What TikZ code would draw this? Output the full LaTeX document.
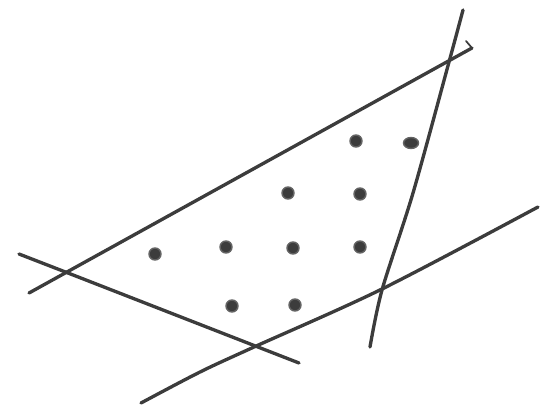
\documentclass[tikz,border=0pt]{standalone}
\usepackage{tikz}
\usetikzlibrary{calc}

\definecolor{pencil}{HTML}{3C3C3C}
\tikzset{
    pen/.style={draw=pencil, line width=1.9pt, line cap=round},
    dot/.style={fill=pencil, draw=pencil!80, line width=0.8pt}
}

\begin{document}
\begin{tikzpicture}[x=0.02cm, y=-0.02cm]
    \useasboundingbox (0,0) rectangle (543,408);
    % Upper line
    \draw[pen] (29,293) -- (472,48);
    \draw[pen, line width=1pt] (472,48) -- (466,41);
    % Steep line
    \draw[pen] plot[smooth] coordinates {(463,10) (449,62) (413,193) (382,290) (370,347)};
    % Lower left line
    \draw[pen] (19,254) -- (68,273) -- (299,363);
    % Bottom curve
    \draw[pen] plot[smooth] coordinates {(141,403) (200,372) (254,347) (382,289) (538,207)};
    % Points inside
    \foreach \px/\py in {356/141, 288/193, 360/194, 155/254, 226/247, 293/248, 360/247, 232/306, 295/305}
        \filldraw[dot] (\px,\py) circle (6);
    \filldraw[dot] (411,143) ellipse (7.5 and 5.5);
\end{tikzpicture}
\end{document}
